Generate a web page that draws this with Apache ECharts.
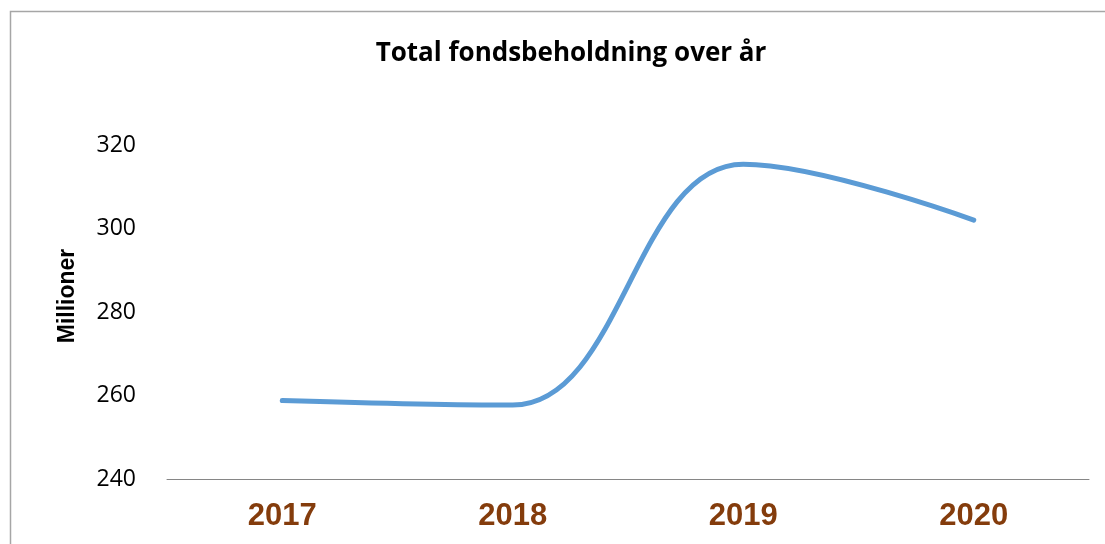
<!DOCTYPE html>
<html>
<head>
<meta charset="utf-8">
<script src="https://cdn.jsdelivr.net/npm/echarts@6/dist/echarts.min.js"></script>
<style>
  html, body { margin: 0; padding: 0; background: #fff; }
  #chart { width: 1105px; height: 544px; }
</style>
</head>
<body>
<div id="chart"></div>
<script>
var years = ['2017', '2018', '2019', '2020'];
var beholdning = [258.8, 257.7, 315.4, 302.0];
var yMin = 240, yMax = 320, yStep = 20;

var chart = echarts.init(document.getElementById('chart'));
var option = {
    backgroundColor: '#ffffff',
    animation: false,
    title: {
        text: 'Total fondsbeholdning over år',
        left: 566,
        top: 36,
        textAlign: 'center',
        textStyle: {
            fontFamily: 'Open Sans',
            fontWeight: 'bold',
            fontSize: 26,
            color: '#000'
        }
    },
    graphic: [
        {
            type: 'rect',
            shape: { x: 10.5, y: 11.5, width: 1200, height: 700 },
            style: { fill: 'none', stroke: '#a6a6a6', lineWidth: 1.5 },
            silent: true
        }
    ],
    grid: { left: 167, right: 16, top: 145, bottom: 65 },
    xAxis: {
        type: 'category',
        data: years,
        boundaryGap: true,
        axisLine: { lineStyle: { color: '#868686', width: 1 } },
        axisTick: { show: false },
        axisLabel: {
            margin: 22,
            fontFamily: 'Liberation Sans',
            fontWeight: 'bold',
            fontSize: 31,
            color: '#843c0c'
        }
    },
    yAxis: {
        type: 'value',
        min: yMin,
        max: yMax,
        interval: yStep,
        name: 'Millioner',
        nameLocation: 'middle',
        nameGap: 88,
        nameTextStyle: {
            fontFamily: 'Liberation Sans',
            fontWeight: 'bold',
            fontSize: 23,
            color: '#000',
            padding: [0, 0, 0, 32]
        },
        axisLine: { show: false },
        axisTick: { show: false },
        splitLine: { show: false },
        axisLabel: {
            margin: 31,
            fontFamily: 'Open Sans',
            fontSize: 23,
            color: '#000'
        }
    },
    series: [
        {
            name: 'Total fondsbeholdning',
            type: 'line',
            data: beholdning,
            smooth: 0.4,
            symbol: 'none',
            lineStyle: { color: '#5b9bd5', width: 5, cap: 'round' }
        }
    ]
};
chart.setOption(option);
window.addEventListener('resize', chart.resize);
</script>
</body>
</html>
